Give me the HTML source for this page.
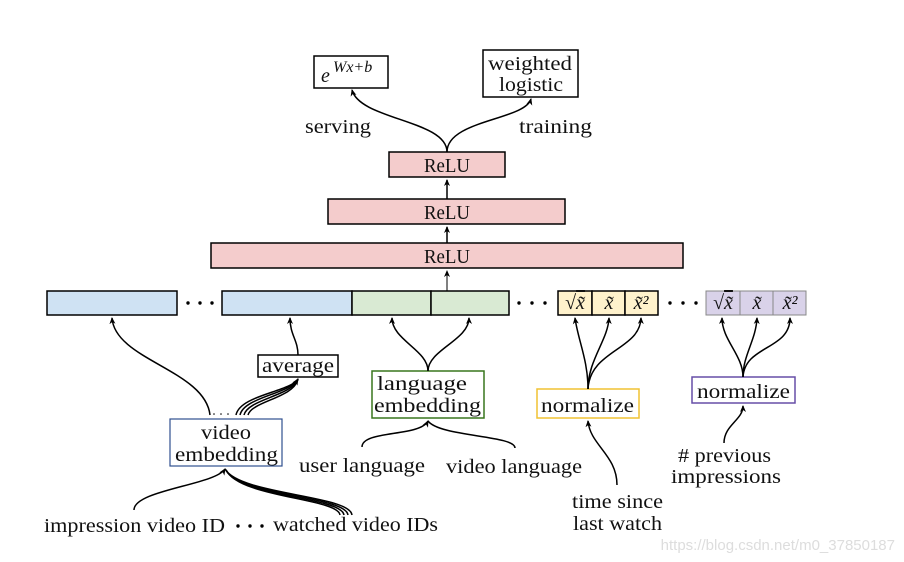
<!DOCTYPE html>
<html><head><meta charset="utf-8"><style>
html,body{margin:0;padding:0;background:#fff;}
svg{display:block;}
text{font-family:"Liberation Serif",serif;font-size:20px;fill:#111;}
.m{font-style:italic;font-size:16px;}
</style></head><body>
<svg width="904" height="562" viewBox="0 0 904 562" xmlns="http://www.w3.org/2000/svg">
<defs><marker id="a" markerWidth="8" markerHeight="8" refX="6" refY="4" orient="auto" markerUnits="userSpaceOnUse"><path d="M0,1 L7,4 L0,7 L2,4Z" fill="#000"/></marker></defs>
<g fill="none" stroke="#000" stroke-width="1.5">
<rect x="314" y="56" width="74" height="32" fill="#fff"/>
<rect x="483" y="50" width="95" height="47" fill="#fff"/>
<path d="M447 152 C447 120 360 120 352 90" marker-end="url(#a)"/>
<path d="M447 152 C447 120 525 120 531 99" marker-end="url(#a)"/>
<rect x="389" y="152" width="116" height="25" fill="#f4cccc"/>
<rect x="328" y="199" width="237" height="25" fill="#f4cccc"/>
<rect x="211" y="243" width="472" height="25" fill="#f4cccc"/>
<path d="M447 199 L447 180" marker-end="url(#a)"/>
<path d="M447 243 L447 227" marker-end="url(#a)"/>
<path d="M447 291 L447 271" stroke-width="1" marker-end="url(#a)"/>
<rect x="47" y="291" width="130" height="24" fill="#cfe2f3"/>
<rect x="222" y="291" width="130" height="24" fill="#cfe2f3"/>
<rect x="352" y="291" width="79" height="24" fill="#d9ead3"/>
<rect x="431" y="291" width="78" height="24" fill="#d9ead3"/>
<rect x="558" y="291" width="34" height="24" fill="#fff2cc"/>
<rect x="592" y="291" width="33" height="24" fill="#fff2cc"/>
<rect x="625" y="291" width="33" height="24" fill="#fff2cc"/>
<g stroke="#888" stroke-width="1"><rect x="706" y="291" width="34" height="24" fill="#d9d2e9"/>
<rect x="740" y="291" width="33" height="24" fill="#d9d2e9"/>
<rect x="773" y="291" width="33" height="24" fill="#d9d2e9"/></g>
<rect x="258" y="355" width="80" height="22" fill="#fff"/>
<rect x="372" y="371" width="112" height="47" fill="#fff" stroke="#38761d"/>
<rect x="170" y="419" width="112" height="47" fill="#fff" stroke="#2f4f8f" stroke-width="1.2"/>
<rect x="537" y="389" width="102" height="29" fill="#fff" stroke="#f1c232"/>
<rect x="692" y="377" width="103" height="26" fill="#fff" stroke="#674ea7"/>
<path d="M210 415 C205 370 115 360 112 318" marker-end="url(#a)"/>
<path d="M236 415 C240 395 290 392 298 379" marker-end="url(#a)"/>
<path d="M240 415 C244 397 290 394 298 379"/>
<path d="M244 415 C248 399 292 396 298 379"/>
<path d="M248 415 C252 401 294 398 298 379"/>
<path d="M298 355 C298 340 290 335 290 318" marker-end="url(#a)"/>
<path d="M428 371 C428 350 392 340 392 318" marker-end="url(#a)"/>
<path d="M428 371 C428 350 469 340 469 318" marker-end="url(#a)"/>
<path d="M588 389 C588 360 578 340 575 318" marker-end="url(#a)"/>
<path d="M588 389 C588 360 608 340 609 318" marker-end="url(#a)"/>
<path d="M588 389 C590 350 640 350 641 318" marker-end="url(#a)"/>
<path d="M743 377 C743 355 722 340 722 318" marker-end="url(#a)"/>
<path d="M743 377 C743 355 756 340 757 318" marker-end="url(#a)"/>
<path d="M743 377 C745 345 790 350 790 318" marker-end="url(#a)"/>
<path d="M362 447 C362 430 420 437 428 421" marker-end="url(#a)"/>
<path d="M515 448 C515 435 440 437 428 421"/>
<path d="M134 510 C134 490 215 485 225 469" marker-end="url(#a)"/>
<path d="M352 515 C350 495 240 495 225 469"/>
<path d="M348 515 C346 496 240 496 226 470"/>
<path d="M344 515 C342 497 240 497 226 470"/>
<path d="M340 515 C338 498 240 498 226 470"/>
<path d="M617 485 C617 455 590 445 588 421" marker-end="url(#a)"/>
<path d="M724 443 C724 425 743 420 743 406" marker-end="url(#a)"/>
</g>
<g fill="#000"><circle cx="188" cy="303" r="1.7"/><circle cx="200" cy="303" r="1.7"/><circle cx="212" cy="303" r="1.7"/>
<circle cx="519" cy="303" r="1.7"/><circle cx="532" cy="303" r="1.7"/><circle cx="545" cy="303" r="1.7"/>
<circle cx="670" cy="303" r="1.7"/><circle cx="683" cy="303" r="1.7"/><circle cx="696" cy="303" r="1.7"/>
<circle cx="238" cy="526" r="1.7"/><circle cx="250" cy="526" r="1.7"/><circle cx="262" cy="526" r="1.7"/>
<circle cx="214" cy="414" r="0.8"/><circle cx="221" cy="414" r="0.8"/><circle cx="228" cy="414" r="0.8"/></g>
<text x="321" y="82" font-style="italic" font-size="22">e</text><text x="333" y="72" class="m" font-size="14">Wx+b</text>
<text x="488" y="70" textLength="84" lengthAdjust="spacingAndGlyphs">weighted</text>
<text x="499" y="91" textLength="64" lengthAdjust="spacingAndGlyphs">logistic</text>
<text x="305" y="133" textLength="66" lengthAdjust="spacingAndGlyphs">serving</text>
<text x="519" y="133" textLength="73" lengthAdjust="spacingAndGlyphs">training</text>
<text x="424" y="172" textLength="46" lengthAdjust="spacingAndGlyphs">ReLU</text>
<text x="424" y="219" textLength="46" lengthAdjust="spacingAndGlyphs">ReLU</text>
<text x="424" y="263" textLength="46" lengthAdjust="spacingAndGlyphs">ReLU</text>
<text x="262" y="372" textLength="72" lengthAdjust="spacingAndGlyphs">average</text>
<text x="377" y="390" textLength="90" lengthAdjust="spacingAndGlyphs">language</text>
<text x="374" y="412" textLength="107" lengthAdjust="spacingAndGlyphs">embedding</text>
<text x="201" y="439" textLength="50" lengthAdjust="spacingAndGlyphs">video</text>
<text x="175" y="461" textLength="103" lengthAdjust="spacingAndGlyphs">embedding</text>
<text x="541" y="412" textLength="93" lengthAdjust="spacingAndGlyphs">normalize</text>
<text x="697" y="398" textLength="93" lengthAdjust="spacingAndGlyphs">normalize</text>
<text x="299" y="472" textLength="126" lengthAdjust="spacingAndGlyphs">user language</text>
<text x="446" y="473" textLength="136" lengthAdjust="spacingAndGlyphs">video language</text>
<text x="44" y="532" textLength="181" lengthAdjust="spacingAndGlyphs">impression video ID</text>
<text x="273" y="531" textLength="165" lengthAdjust="spacingAndGlyphs">watched video IDs</text>
<text x="572" y="508" textLength="91" lengthAdjust="spacingAndGlyphs">time since</text>
<text x="573" y="530" textLength="89" lengthAdjust="spacingAndGlyphs">last watch</text>
<text x="678" y="462" textLength="93" lengthAdjust="spacingAndGlyphs"># previous</text>
<text x="671" y="483" textLength="110" lengthAdjust="spacingAndGlyphs">impressions</text>
<g class="m">
<text x="575" y="309" text-anchor="middle" font-size="15">√<tspan text-decoration="overline">x̃</tspan></text>
<text x="609" y="309" text-anchor="middle" font-size="15">x̃</text>
<text x="641" y="309" text-anchor="middle" font-size="15">x̃²</text>
<text x="723" y="309" text-anchor="middle" font-size="15" fill="#444">√<tspan text-decoration="overline">x̃</tspan></text>
<text x="757" y="309" text-anchor="middle" font-size="15" fill="#444">x̃</text>
<text x="790" y="309" text-anchor="middle" font-size="15" fill="#444">x̃²</text>
</g>
<text x="895" y="550" text-anchor="end" style="font-family:'Liberation Sans',sans-serif;font-size:15px;fill:#ddd">https://blog.csdn.net/m0_37850187</text>
</svg>
</body></html>
